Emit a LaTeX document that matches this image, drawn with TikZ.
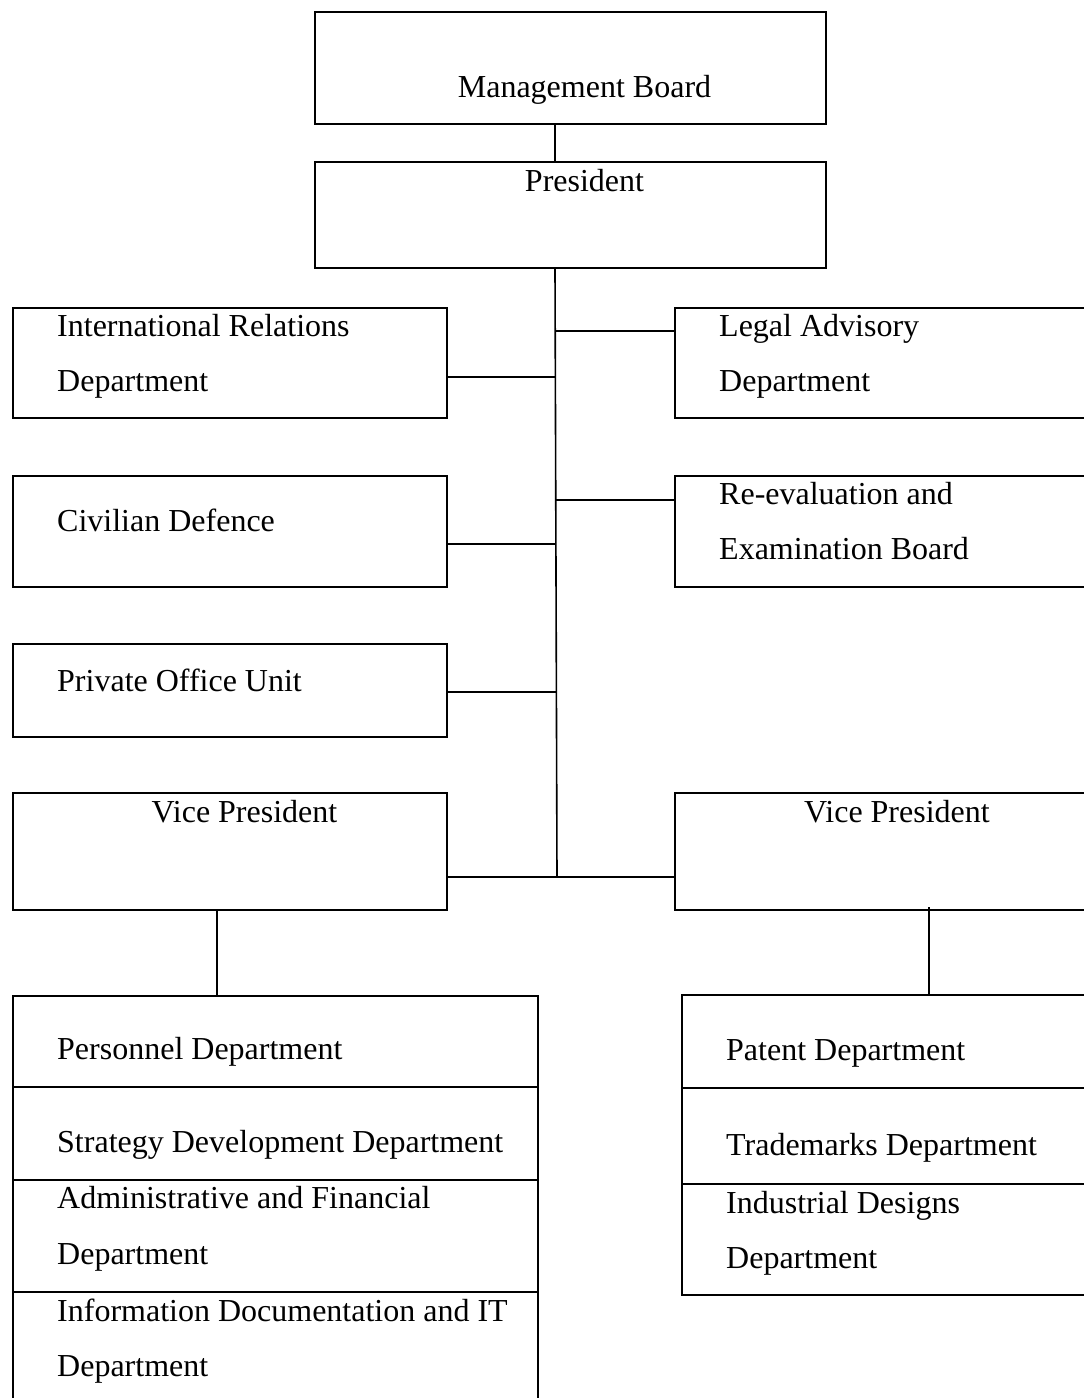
\documentclass[tikz,border=0pt]{standalone}
\usepackage{fontspec}
\setmainfont{Liberation Serif}
\begin{document}
\begin{tikzpicture}[x=1pt,y=-1pt,
  box/.style={draw, line width=2.2pt, rectangle, inner sep=0pt, anchor=north west},
  conn/.style={line width=1.6pt},
  lbl/.style={inner sep=0pt, font=\fontsize{32}{38}\selectfont},
  lblw/.style={lbl, anchor=base west},
  lblc/.style={lbl, anchor=base}]
\clip (0,0) rectangle (1084,1398);
\fill[white] (0,0) rectangle (1084,1398);
% boxes
\node[box, minimum width=511pt, minimum height=112pt] (mb) at (314,11) {};
\node[box, minimum width=511pt, minimum height=106pt] (pres) at (314,161) {};
\node[box, minimum width=434pt, minimum height=110pt] (ir) at (12,307) {};
\node[box, minimum width=416pt, minimum height=110pt] (legal) at (674,307) {};
\node[box, minimum width=434pt, minimum height=111pt] (civ) at (12,475) {};
\node[box, minimum width=416pt, minimum height=111pt] (reeval) at (674,475) {};
\node[box, minimum width=434pt, minimum height=93pt] (priv) at (12,643) {};
\node[box, minimum width=434pt, minimum height=117pt] (vpl) at (12,792) {};
\node[box, minimum width=416pt, minimum height=117pt] (vpr) at (674,792) {};
% left bottom stack
\node[box, minimum width=525pt, minimum height=91pt] (pers) at (12,995) {};
\node[box, minimum width=525pt, minimum height=93pt] (strat) at (12,1086) {};
\node[box, minimum width=525pt, minimum height=112pt] (admin) at (12,1179) {};
\node[box, minimum width=525pt, minimum height=120pt] (info) at (12,1291) {};
% right bottom stack
\node[box, minimum width=409pt, minimum height=93pt] (patent) at (681,994) {};
\node[box, minimum width=409pt, minimum height=96pt] (tm) at (681,1087) {};
\node[box, minimum width=409pt, minimum height=111pt] (ind) at (681,1183) {};
% labels
\node[lblc] (tmb) at (584.5,97) {Management Board};
\node[lblc] (tpres) at (584.5,191) {President};
\node[lblw] (tir1) at (57,336) {International Relations};
\node[lblw] (tir2) at (57,391) {Department};
\node[lblw] (tla1) at (719,336) {Legal Advisory};
\node[lblw] (tla2) at (719,391) {Department};
\node[lblw] (tciv) at (57,531) {Civilian Defence};
\node[lblw] (tre1) at (719,504) {Re-evaluation and};
\node[lblw] (tre2) at (719,559) {Examination Board};
\node[lblw] (tpriv) at (57,691) {Private Office Unit};
\node[lblc] (tvpl) at (244.5,822) {Vice President};
\node[lblc] (tvpr) at (897,822) {Vice President};
\node[lblw] (tpers) at (57,1059) {Personnel Department};
\node[lblw] (tstrat) at (57,1152) {Strategy Development Department};
\node[lblw] (tadm1) at (57,1208) {Administrative and Financial};
\node[lblw] (tadm2) at (57,1264) {Department};
\node[lblw] (tinf1) at (57,1321) {Information Documentation and IT};
\node[lblw] (tinf2) at (57,1376) {Department};
\node[lblw] (tpat) at (726,1060) {Patent Department};
\node[lblw] (ttm) at (726,1155) {Trademarks Department};
\node[lblw] (tind1) at (726,1213) {Industrial Designs};
\node[lblw] (tind2) at (726,1268) {Department};
% connector coordinates
\coordinate (tx) at (555,0);
\coordinate (tend) at (557,877);
\coordinate (j1) at (556,331);
\coordinate (j2) at (556,377);
\coordinate (j3) at (556,500);
\coordinate (j4) at (556,544);
\coordinate (j5) at (557,692);
\coordinate (lx) at (217,0);
\coordinate (rx) at (929,0);
\coordinate (rtop) at (929,907);
% connectors
\draw[conn] (mb.south -| tx) -- (pres.north -| tx);
\draw[conn] (pres.south -| tx) -- (tend);
\draw[conn] (j1) -- (j1 -| legal.west);
\draw[conn] (ir.east |- j2) -- (j2);
\draw[conn] (j3) -- (j3 -| reeval.west);
\draw[conn] (civ.east |- j4) -- (j4);
\draw[conn] (priv.east |- j5) -- (j5);
\draw[conn] (vpl.east |- tend) -- (vpr.west |- tend);
\draw[conn] (vpl.south -| lx) -- (pers.north -| lx);
\draw[conn] (rtop) -- (patent.north -| rx);
\end{tikzpicture}
\end{document}
